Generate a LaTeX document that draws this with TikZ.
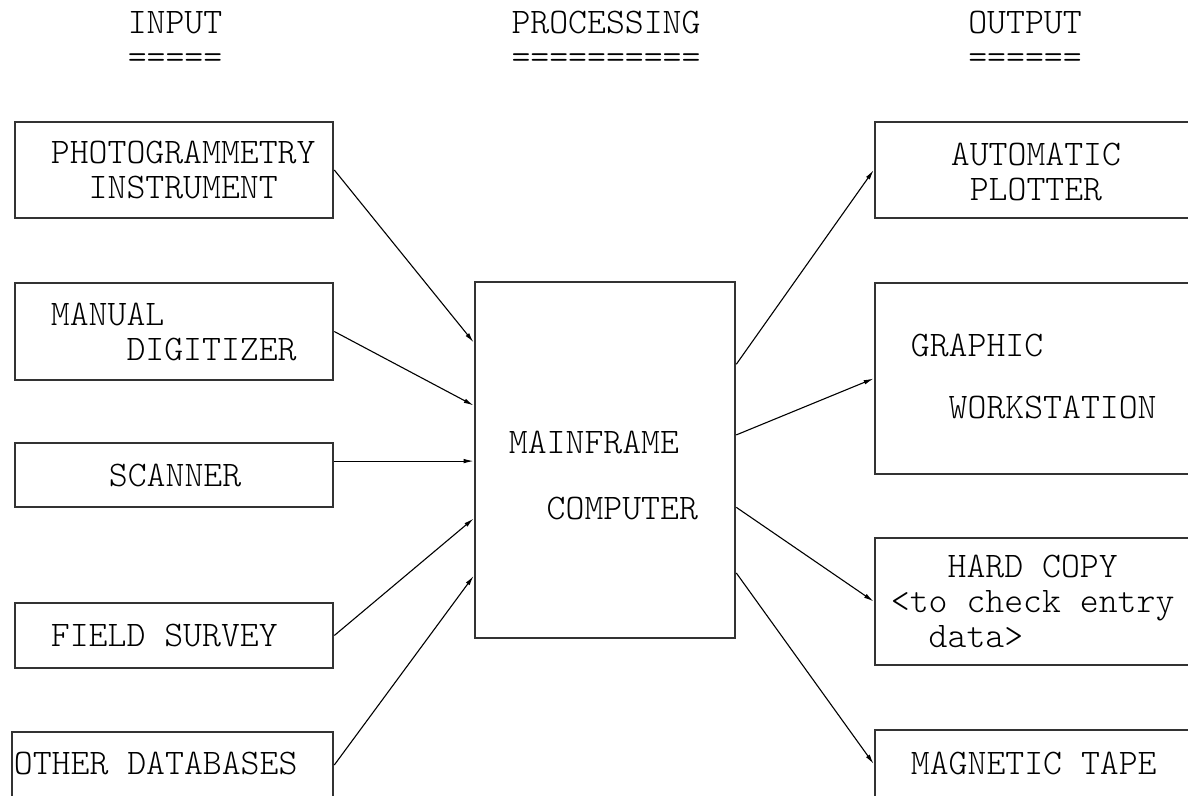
\documentclass[tikz,border=0pt]{standalone}
\usetikzlibrary{positioning, arrows.meta, calc}

\begin{document}
\begin{tikzpicture}[x=1pt, y=-1pt,
    tt/.style={font=\fontsize{36}{35}\fontseries{l}\ttfamily\selectfont, inner sep=0pt},
    blk/.style={draw=black!80, line width=2.6pt, inner sep=0pt},
    arr/.style={-{Latex[length=10pt, width=4.5pt]}, line width=1.1pt}]
    \useasboundingbox (0,0) rectangle (1188,795);
    \clip (0,0) rectangle (1188,795);

    % Column headings
    \node[tt, anchor=base] (hin) at (175,33) {INPUT};
    \node[tt, anchor=base] (hinl) at (175,68) {=====};
    \node[tt, anchor=base] (hproc) at (606,33) {PROCESSING};
    \node[tt, anchor=base] (hprocl) at (606,68) {==========};
    \node[tt, anchor=base] (hout) at (1025,33) {OUTPUT};
    \node[tt, anchor=base] (houtl) at (1025,68) {======};

    % Input boxes
    \node[blk, minimum width=318pt, minimum height=96pt] (photo) at (174,170) {};
    \node[tt, align=left, anchor=west] (photot) at ([xshift=37pt]photo.west) {PHOTOGRAMMETRY\\\phantom{XX}INSTRUMENT};
    \node[blk, minimum width=318pt, minimum height=97pt] (manual) at (174,331.5) {};
    \node[tt, align=left, anchor=west] (manualt) at ([xshift=37pt]manual.west) {MANUAL\\\phantom{XXXX}DIGITIZER};
    \node[blk, minimum width=318pt, minimum height=64pt] (scan) at (174,475) {};
    \node[tt, anchor=west] (scant) at ([xshift=95pt]scan.west) {SCANNER};
    \node[blk, minimum width=318pt, minimum height=65pt] (field) at (174,635.5) {};
    \node[tt, anchor=west] (fieldt) at ([xshift=37pt]field.west) {FIELD SURVEY};
    \node[blk, minimum width=321pt, minimum height=66pt] (other) at (172.5,765) {};
    \node[tt, anchor=west] (othert) at ([xshift=3pt, yshift=2pt]other.west) {OTHER DATABASES};

    % Processing box
    \node[blk, minimum width=260pt, minimum height=356pt] (main) at (605,460) {};
    \node[tt, align=left, anchor=west] (maint) at ([xshift=35pt, yshift=-15pt]main.west) {MAINFRAME\\[31pt]\phantom{XX}COMPUTER};

    % Output boxes (cut at the right edge)
    \node[blk, minimum width=325pt, minimum height=96pt] (plot) at (1037.5,170) {};
    \node[tt, align=left, anchor=west] (plott) at ([xshift=77pt, yshift=-2pt]plot.west) {AUTOMATIC\\\phantom{X}PLOTTER};
    \node[blk, minimum width=325pt, minimum height=191pt] (work) at (1037.5,378.5) {};
    \node[tt, align=left, anchor=west] (workt) at ([xshift=37pt, yshift=2pt]work.west) {GRAPHIC\\[27pt]\phantom{XX}WORKSTATION};
    \node[blk, minimum width=325pt, minimum height=127pt] (hard) at (1037.5,601.5) {};
    \node[tt, align=left, anchor=west] (hardt) at ([xshift=17pt]hard.west) {\phantom{XXX}HARD COPY\\<to check entry\\\phantom{XX}data>};
    \node[blk, minimum width=325pt, minimum height=68pt] (tape) at (1037.5,764) {};
    \node[tt, anchor=west] (tapet) at ([xshift=37pt, yshift=1pt]tape.west) {MAGNETIC TAPE};

    % Input arrows
    \foreach \src/\f in {photo/0.172, manual/0.348, field/0.663, other/0.823}
        \draw[arr] (\src.east) -- ($(main.north west)!\f!(main.south west)$);
    \coordinate (scanin) at ($(main.north west)!0.503!(main.south west)$);
    \draw[arr] (scan.east |- scanin) -- (scanin);

    % Output arrows
    \foreach \dst/\f in {plot/0.233, work/0.43, hard/0.632, tape/0.815}
        \draw[arr] ($(main.north east)!\f!(main.south east)$) -- (\dst.west);
\end{tikzpicture}
\end{document}
